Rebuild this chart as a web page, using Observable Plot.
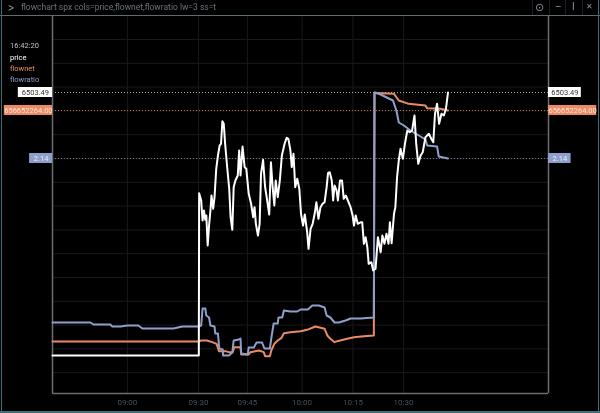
<!DOCTYPE html>
<html><head><meta charset="utf-8">
<script src="https://cdn.jsdelivr.net/npm/d3@7"></script>
<script src="https://cdn.jsdelivr.net/npm/@observablehq/plot@0.6"></script>
<style>
html,body{margin:0;padding:0;background:#000;overflow:hidden}
#win{position:relative;width:600px;height:413px;background:#000;font-family:Roboto,sans-serif;overflow:hidden;filter:blur(0.35px)}
#win svg{position:absolute;left:0;top:0}
.t{position:absolute;white-space:nowrap;line-height:1.2}
.e{position:absolute}
</style></head><body><div id="win"></div>
<script>
// Minutes from the 09:30 open (bars on the session-compressed axis)
const priceTime=[-42.7,0.1,0.2,0.8,1.2,1.6,2.0,2.3,2.7,3.1,3.5,3.8,4.3,4.7,5.2,5.7,6.2,6.6,7.0,7.4,7.8,8.4,9.0,9.4,9.9,10.3,10.8,11.5,11.9,12.3,12.9,13.5,14.0,14.7,15.4,16.0,16.4,16.8,17.4,17.9,18.3,18.9,19.5,20.1,20.7,21.2,21.7,22.2,22.6,23.2,23.8,24.4,25.2,25.8,26.3,26.9,27.3,27.8,28.3,28.9,29.5,30.0,30.6,31.1,31.8,32.2,32.8,33.4,34.0,34.5,35.1,35.7,36.3,36.9,37.5,37.9,38.4,39.0,39.4,39.8,40.4,40.8,41.4,42.0,42.5,43.1,43.7,44.5,45.1,45.5,46.0,46.6,47.6,47.9,48.4,48.9,49.4,49.8,50.6,51.1,51.8,52.5,53.3,53.8,54.4,55.0,55.6,56.0,56.5,57.2,57.6,58.1,58.6,59.1,59.8,60.4,61.1,61.8,62.5,63.2,63.7,64.3,65.0,65.6,66.4,67.4,68.1,68.7,69.2,69.8,70.4,71.1,71.8,72.4,73.0];
const priceValue=[6477.19,6477.19,6493.42,6492.69,6490.69,6491.69,6490.76,6491.19,6488.19,6490.19,6491.69,6493.19,6491.86,6493.02,6495.86,6497.19,6498.19,6498.36,6500.62,6500.36,6498.36,6496.02,6493.86,6491.02,6489.76,6494.02,6494.69,6495.19,6497.69,6495.19,6498.09,6496.02,6495.86,6493.36,6492.36,6491.02,6492.02,6490.36,6489.19,6490.36,6495.36,6496.76,6494.02,6492.69,6491.29,6496.52,6494.02,6492.19,6494.69,6493.02,6494.69,6497.19,6498.36,6498.96,6498.86,6497.69,6496.02,6497.36,6494.02,6494.86,6493.86,6491.36,6490.19,6491.29,6489.52,6487.86,6489.86,6490.36,6491.36,6492.52,6490.86,6492.02,6492.36,6492.52,6494.02,6495.42,6495.52,6494.69,6492.69,6494.19,6493.69,6492.69,6494.69,6494.69,6492.86,6493.19,6492.69,6492.02,6491.19,6490.19,6491.19,6490.36,6490.52,6490.52,6488.36,6489.02,6488.02,6486.36,6486.52,6485.69,6485.86,6489.02,6487.52,6489.19,6488.36,6489.36,6488.36,6490.52,6488.42,6491.36,6492.02,6495.02,6496.69,6497.86,6496.86,6498.36,6499.69,6499.52,6499.69,6501.19,6498.36,6496.36,6497.19,6497.52,6499.02,6499.36,6498.86,6498.52,6501.36,6502.36,6500.36,6501.36,6501.19,6501.86,6503.49];
const flownetTime=[-42.7,0,0.8,2.5,4.0,5.3,6.0,7.9,8.9,10.0,10.5,12.3,12.5,14.7,15.2,17.7,19.1,19.5,20.9,21.3,22.2,23.2,24.2,25.0,26.9,29.9,31.8,34.2,36.9,37.7,38.6,39.8,40.6,43.5,45.5,48.4,51.3,51.5,53.3,57.2,58.6,61.5,66.4,66.9,70.8,73.0];
const flownetValue=[79.15,79.15,81.65,81.65,77.5,73.3,55,55,52.5,52.5,65,65,46.65,46.65,52.5,56.65,52.5,42.5,42.5,56.65,73.3,81.65,87.5,100,102.5,105,108.3,116.65,110.8,94.2,85.8,77.5,80,85.8,90,92.5,94.2,700.8,700,698.3,681.65,673.3,669.2,662.5,660.8,656.65];
const flowratioTime=[-42.7,-31.6,-30.7,-25.8,-25.2,-22.8,-20.8,-17.6,-16.4,-7.3,-4.7,-0.3,0,0.8,1.2,2.0,2.3,3.1,3.5,4.7,4.9,5.7,6.1,7.1,7.2,8.9,9.9,10.3,11.8,12.3,12.5,14.4,14.7,16.2,17.0,18.6,19.3,20.9,21.3,22.0,23.2,23.4,24.5,25.0,26.9,28.9,29.9,32.0,33.3,35.2,36.9,37.5,38.6,39.8,41.1,43.0,44.5,47.4,51.3,51.5,53.3,55.7,56.9,57.9,58.6,60.1,62.0,64.5,66.4,66.9,69.8,70.3,73.0];
const flowratioValue=[0.50,0.50,0.48,0.48,0.46,0.46,0.47,0.47,0.44,0.44,0.46,0.46,0.46,0.47,0.64,0.64,0.57,0.55,0.47,0.46,0.39,0.39,0.24,0.23,0.17,0.17,0.20,0.32,0.33,0.34,0.19,0.18,0.25,0.25,0.30,0.30,0.24,0.24,0.34,0.49,0.49,0.55,0.55,0.62,0.61,0.61,0.63,0.63,0.67,0.67,0.65,0.57,0.55,0.50,0.50,0.52,0.54,0.54,0.55,2.80,2.78,2.74,2.72,2.62,2.50,2.47,2.42,2.37,2.33,2.27,2.26,2.16,2.14];
const tickBars=[-20.8,0,14.3,30.3,45.2,60];
const tickLabels=["09:00","09:30","09:45","10:00","10:15","10:30"];
const lastPrice=6503.49, lastFlownet=656652264.00, lastRatio=2.14;

const WHITE="#ffffff", ORANGE="#ec8a66", BLUE="#8f9fcb";
// Each series has its own overlay scale; everything is drawn on the price axis.
const netAxis=v=>6501.69+(v-656.65)*0.04;
const ratioAxis=v=>6496.89+(v-2.14)*10;
const series=(ts,vs,f)=>ts.map((t,i)=>({t,y:f(vs[i])}));
const priceData=series(priceTime,priceValue,v=>v);
const netData=series(flownetTime,flownetValue,netAxis);
const ratioData=series(flowratioTime,flowratioValue,ratioAxis);
const xDomain=[-42.7,102.4], yDomain=[6473.39,6511.09];
const gridLevels=d3.range(6508.79,6474,-2.38);
const pad=0.5;
const tags=[
 {x1:-52.7,x2:-42.7,y:lastPrice,fill:WHITE,text:"6503.49",col:"#333"},
 {x1:-56.8,x2:-42.7,y:netAxis(656.65),fill:ORANGE,text:lastFlownet.toFixed(2),col:"#fde3d8"},
 {x1:-49.4,x2:-42.7,y:ratioAxis(lastRatio),fill:BLUE,text:"2.14",col:"#e8ecf6"},
 {x1:102.4,x2:112,y:lastPrice,fill:WHITE,text:"6503.49",col:"#333"},
 {x1:102.4,x2:116.5,y:netAxis(656.65),fill:ORANGE,text:lastFlownet.toFixed(2),col:"#fde3d8"},
 {x1:102.4,x2:109,y:ratioAxis(lastRatio),fill:BLUE,text:"2.14",col:"#e8ecf6"}
];
const chart=Plot.plot({
 width:600,height:413,marginLeft:52,marginRight:52,marginTop:16,marginBottom:20,
 style:{background:"transparent",overflow:"visible"},
 x:{domain:xDomain,axis:null},
 y:{domain:yDomain,axis:null},
 marks:[
  Plot.ruleY(gridLevels,{stroke:"#191919",strokeWidth:1}),
  Plot.ruleX(tickBars,{stroke:"#191919",strokeWidth:1}),
  Plot.ruleY([lastPrice],{stroke:"#b0b0b0",strokeDasharray:"1,2"}),
  Plot.ruleY([netAxis(656.65)],{stroke:ORANGE,strokeDasharray:"1,2",strokeOpacity:0.8}),
  Plot.ruleY([ratioAxis(lastRatio)],{stroke:BLUE,strokeDasharray:"1,2",strokeOpacity:0.7}),
  Plot.ruleX(xDomain,{stroke:"#6e6e6e",strokeWidth:1.5}),
  Plot.ruleY([yDomain[0]],{stroke:"#6e6e6e",strokeWidth:1.5}),
  Plot.line(netData,{x:"t",y:"y",stroke:ORANGE,strokeWidth:2,strokeLinejoin:"round"}),
  Plot.line(ratioData,{x:"t",y:"y",stroke:BLUE,strokeWidth:2,strokeLinejoin:"round"}),
  Plot.line(priceData,{x:"t",y:"y",stroke:WHITE,strokeWidth:2,strokeLinejoin:"round"}),
  Plot.rectY(tags,{x1:"x1",x2:"x2",y1:d=>d.y-pad,y2:d=>d.y+pad,fill:"fill"}),
  Plot.text(tags,{x:d=>(d.x1+d.x2)/2,y:"y",text:"text",fill:"col",fontSize:7.5,fontFamily:"Roboto"}),
  Plot.axisX({ticks:tickBars,tickFormat:(d,i)=>tickLabels[i],tickSize:0,tickPadding:6,fontSize:8,color:"#46525a",fontFamily:"Roboto",label:null})
 ]
});
const win=document.getElementById("win");
win.appendChild(chart);
const txt=(s,x,y,size,col)=>{const e=document.createElement("div");e.className="t";e.textContent=s;e.style.cssText=`left:${x}px;top:${y}px;font-size:${size}px;color:${col}`;win.appendChild(e);};
const box=(x,y,w,h,col)=>{const e=document.createElement("div");e.className="e";e.style.cssText=`left:${x}px;top:${y}px;width:${w}px;height:${h}px;background:${col}`;win.appendChild(e);};
txt(">",8,1,12,"#8a9498");
txt("flowchart spx cols=price,flownet,flowratio lw=3 ss=t",21,2,8.5,"#6a7478");
txt("16:42:20",10,41,7.5,"#c4c4c4");
txt("price",10,53,7.5,"#ffffff");
txt("flownet",10,64,7.5,ORANGE);
txt("flowratio",10,75,7.5,BLUE);
const g=document.createElement("div");g.className="t";g.textContent="⊙";g.style.cssText="left:535px;top:1px;font-size:11px;color:#8a9498;font-family:'DejaVu Sans'";win.appendChild(g);
txt("–",555,1,10,"#8a9498");
txt("I",572,1,10,"#8a9498");
txt("✕",586,2,8,"#8a9498");
[532,549,565,582].forEach(x=>box(x,0,1,15,"#1c2224"));
box(0,15,600,1,"#5c6e72");
box(1,0,1,413,"#3a7076");
box(598,0,1,413,"#3a7076");
box(0,411,600,2,"#3a7076");
</script></body></html>
